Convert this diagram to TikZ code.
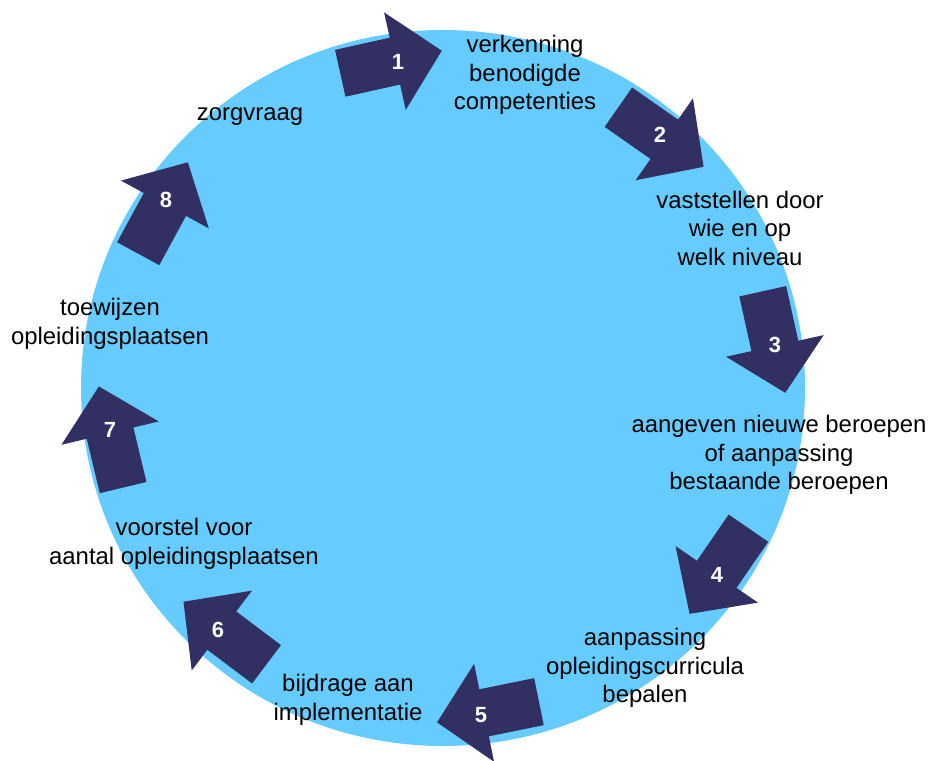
\documentclass[tikz,border=0pt]{standalone}
\usepackage{fontspec}
\setmainfont{Liberation Sans}
\usepackage{tikz}

\definecolor{cyclefill}{RGB}{102,204,255}
\definecolor{arrowfill}{RGB}{50,48,99}

\begin{document}
\begin{tikzpicture}[x=0.02cm,y=-0.02cm,
    steptext/.style={align=center, text=black, inner sep=0pt,
      font=\fontsize{13.6}{16.2}\selectfont},
    stepnum/.style={text=white, inner sep=0pt,
      font=\fontsize{12.5}{13}\selectfont\bfseries},
    blockarrow/.style={fill=arrowfill, draw=none}]
          % Variables
          \def \cx {443}
          \def \cy {388}
          \def \rx {362}
          \def \ry {358}

          \useasboundingbox (0,0) rectangle (932,760);

          % Circle
          \fill[cyclefill] (\cx,\cy) ellipse [x radius=\rx, y radius=\ry];

          % Arrows with their numbers
          \foreach \x/\y/\dir/\n/\lx/\ly in {391/62/12.5/1/398/62, 661/137/-35/2/660/135,
              774/342/-77.5/3/775/345, 719/571/-124.5/4/717/575, 488/712/-168.5/5/481/715,
              225/633/143/6/218/630, 111/437/103.5/7/110/430, 163/208/61.5/8/166/200}{
            \fill[blockarrow, shift={(\x,\y)}, rotate=\dir]
              (-52,-24) -- (4,-24) -- (4,-50) -- (52,0) -- (4,50) -- (4,24) -- (-52,24) -- cycle;
            \node[stepnum] (num\n) at (\lx,\ly) {\n};
          }

          % Steps
          \node[steptext] (verkenning) at (525,75) {verkenning\\benodigde\\competenties};
          \node[steptext] (vaststellen) at (740,228) {vaststellen door\\wie en op\\welk niveau};
          \node[steptext] (aangeven) at (779,455) {aangeven nieuwe beroepen\\of aanpassing\\bestaande beroepen};
          \node[steptext] (aanpassing) at (645,668) {aanpassing\\opleidingscurricula\\bepalen};
          \node[steptext] (bijdrage) at (348,700) {bijdrage aan\\implementatie};
          \node[steptext] (voorstel) at (184,544) {voorstel voor\\aantal opleidingsplaatsen};
          \node[steptext] (toewijzen) at (110,324) {toewijzen\\opleidingsplaatsen};
          \node[steptext] (zorgvraag) at (250,117) {zorgvraag};

        \end{tikzpicture}
\end{document}
